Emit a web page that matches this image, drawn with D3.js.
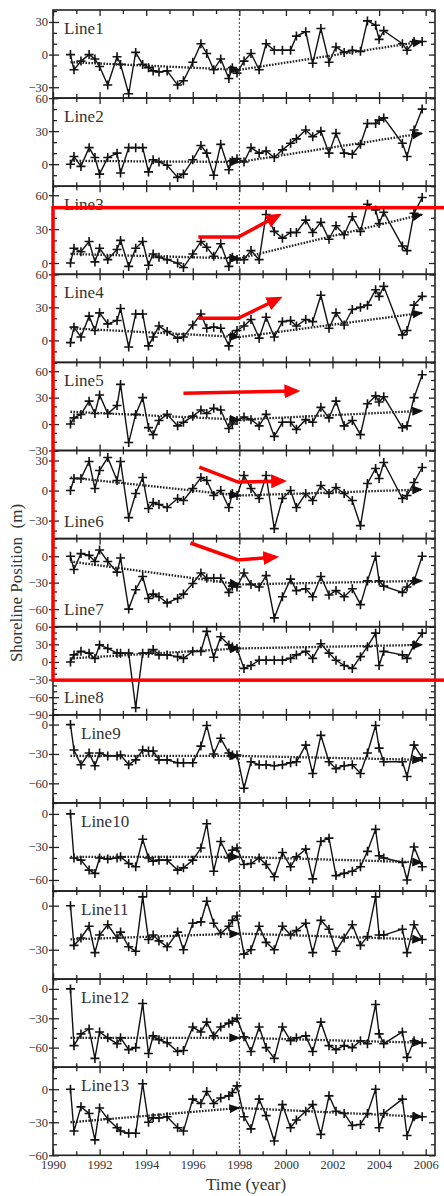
<!DOCTYPE html>
<html>
<head>
<meta charset="utf-8">
<script src="https://cdn.jsdelivr.net/npm/d3@7"></script>
<style>
  body { margin: 0; background: #fff; }
  svg { display: block; }
  text { font-family: "Liberation Serif", "DejaVu Serif", serif; fill: #333; }
</style>
</head>
<body>
<div id="chart"></div>
<script>
// survey dates (decimal years), shared by every transect
const years = [1990.75, 1990.9, 1991.2, 1991.55, 1991.8, 1992.0, 1992.35, 1992.75, 1992.9, 1993.25,
  1993.55, 1993.85, 1994.1, 1994.3, 1994.55, 1994.9, 1995.35, 1995.6, 1996.0, 1996.35,
  1996.6, 1996.9, 1997.2, 1997.55, 1997.7, 1997.9, 1998.2, 1998.5, 1998.85, 1999.15,
  1999.5, 1999.85, 2000.2, 2000.45, 2000.85, 2001.15, 2001.5, 2001.85, 2002.15, 2002.5,
  2002.85, 2003.2, 2003.5, 2003.85, 2004.0, 2004.2, 2005.0, 2005.2, 2005.5, 2005.85];

const line1 = [0, -14, -6, 0, -4, -11, -28, -2, -9, -36, 2, -9, -12, -15, -16, -15, -28, -24, -7, 10, 1, -14, -4, -22, -12, -17, -6, 1, -14, 10, 4, 4, 4, 17, 21, -8, 24, -7, 7, 2, 4, 3, 31, 27, 14, 22, 10, 4, 12, 12];
const line2 = [0, 7, -2, 15, 6, -9, 6, 10, -8, 15, 15, 15, -7, 4, 2, -1, -12, -9, 4, 17, 10, -10, 18, -5, 3, 5, 2, 15, 10, 12, 6, 13, 19, 23, 31, 25, 30, 10, 28, 10, 9, 18, 37, 37, 40, 42, 19, 7, 31, 50];
const line3 = [0, 13, 10, 19, 1, 13, 3, 12, 20, -3, 13, 19, -2, 8, 5, 3, 0, -4, 8, 19, 14, 6, 17, -3, 5, 3, 3, 11, 3, 43, 28, 22, 27, 27, 38, 27, 36, 21, 33, 25, 41, 28, 52, 47, 35, 45, 15, 11, 44, 58];
const line4 = [-2, 12, 3, 22, 9, 25, 15, 18, 29, -6, 24, 24, -5, 3, 13, 8, 2, 3, 14, 24, 11, 12, 11, -5, 5, 9, 13, 19, 2, 21, 3, 17, 18, 13, 19, 17, 41, 11, 25, 14, 28, 30, 32, 46, 40, 49, 5, 9, 32, 40];
const line5 = [0, 7, 11, 26, 12, 33, 12, 21, 45, -21, 11, 30, -4, -12, 4, 11, -2, 2, 9, 16, 12, 18, 16, -5, 0, 4, 8, 5, -2, 11, -14, 2, 2, -6, 5, 2, 19, 7, 26, -2, 4, -12, 23, 32, 25, 31, -4, -2, 30, 56];
const line6 = [0, 12, 12, 29, 2, 20, 33, 10, 29, -27, -3, 13, -18, -12, -14, -17, -8, -10, 2, 13, 10, -5, 0, -17, -3, -5, 15, 2, -8, 15, -38, -8, 0, -17, -3, -10, 5, -3, 3, -3, -10, -35, 7, 22, 12, 28, -8, -5, 8, 23];
const line7 = [0, -15, 3, 1, -6, 7, -6, -18, -2, -60, -38, -23, -48, -43, -46, -53, -48, -43, -31, -19, -25, -25, -25, -41, -34, -35, -19, -32, -35, -22, -70, -46, -26, -39, -37, -46, -23, -44, -39, -46, -37, -55, -28, 0, -28, -34, -41, -35, -28, 0];
const line8 = [0, 12, 18, 15, 6, 29, 23, 15, 15, 15, -78, 15, 15, 21, 12, 12, 9, 6, 18, 18, 52, 8, 43, 29, 26, 23, -11, -6, 3, 3, 3, 3, 6, 12, 18, 6, 31, 15, 3, -6, -11, 9, 26, 49, -6, 18, 12, 6, 29, 49];
const line9 = [0, -26, -41, -29, -42, -29, -32, -32, -31, -41, -36, -26, -27, -27, -36, -36, -39, -39, -39, -22, -1, -30, -14, -29, -31, -31, -65, -38, -41, -41, -42, -41, -39, -38, -21, -50, -11, -38, -45, -42, -41, -50, -29, -1, -24, -38, -38, -53, -21, -34];
const line10 = [0, -40, -42, -51, -54, -40, -41, -40, -39, -45, -48, -23, -40, -43, -42, -42, -51, -49, -42, -31, -9, -52, -25, -40, -33, -31, -46, -45, -40, -46, -57, -35, -48, -39, -32, -59, -25, -22, -56, -54, -52, -48, -34, -14, -38, -40, -44, -60, -30, -48];
const line11 = [0, -27, -22, -14, -32, -20, -13, -22, -18, -28, -31, 6, -23, -20, -24, -28, -18, -30, -12, -11, 3, -12, -19, -14, -10, -7, -33, -30, -14, -25, -30, -14, -20, -17, -12, -32, -10, -16, -31, -22, -13, -27, -21, 6, -20, -20, -16, -32, -13, -23];
const line12 = [0, -58, -46, -41, -71, -44, -50, -56, -50, -62, -60, -15, -66, -48, -52, -55, -64, -63, -39, -44, -34, -48, -39, -35, -33, -30, -49, -64, -39, -60, -71, -39, -53, -50, -48, -64, -34, -58, -62, -58, -60, -53, -56, -16, -46, -56, -44, -70, -53, -55];
const line13 = [0, -38, -16, -22, -46, -17, -27, -35, -38, -40, -40, 5, -30, -26, -26, -25, -35, -38, -9, -13, -2, -13, -8, -6, -3, 3, -25, -36, -9, -24, -47, -14, -35, -28, -20, -14, -41, -6, -20, -22, -33, -32, -22, 0, -35, -22, -9, -42, -25, -25];

// trend arrows: value at start, at 1998 and at the end
const trendYears = [1990.75, 1998, 2005.85];
const trend1 = [-7, -14, 12];
const trend2 = [3, 2, 28];
const trend3 = [8, 4, 43];
const trend4 = [11, 3, 25];
const trend5 = [14, 5, 15];
const trend6 = [13, -5, 1];
const trend7 = [-6, -32, -28];
const trend8 = [6, 23, 29];
const trend9 = [-32, -32, -36];
const trend10 = [-39, -39, -44];
const trend11 = [-23, -19, -23];
const trend12 = [-50, -50, -55];
const trend13 = [-30, -17, -25];

const panelNames = ["Line1", "Line2", "Line3", "Line4", "Line5", "Line6", "Line7",
  "Line8", "Line9", "Line10", "Line11", "Line12", "Line13"];
const yDomains = [[-40, 41], [-20, 60], [-10, 68], [-20, 60], [-30, 70], [-48, 40], [-80, 20],
  [-90, 60], [-80, 10], [-70, 10], [-50, 10], [-80, 10], [-60, 20]];
const splitYear = 1998;

// red annotation (panel index, [year, value] points)
const redArrows = [
  { panel: 2, pts: [[1996.24, 23], [1997.95, 23], [1999.67, 42]] },
  { panel: 3, pts: [[1996.24, 20], [1997.95, 20], [1999.7, 38]] },
  { panel: 4, pts: [[1995.6, 35], [2000.45, 37.5]] },
  { panel: 5, pts: [[1996.28, 23.5], [1997.95, 8.5], [1999.88, 9.5]] },
  { panel: 6, pts: [[1995.9, 15], [1997.95, -4.3], [1999.54, -1]] }
];
const redBox = { x0: 1990, x1: 2008, topPanel: 2, topValue: 49, bottomPanel: 7, bottomValue: -31 };

const series = [line1, line2, line3, line4, line5, line6, line7, line8, line9, line10, line11, line12, line13];
const trends = [trend1, trend2, trend3, trend4, trend5, trend6, trend7, trend8, trend9, trend10, trend11, trend12, trend13];

const w = 444, h = 1196;
const top0 = 10, panelH = 88.1;

const svg = d3.select("#chart").append("svg").attr("width", w).attr("height", h);
const defs = svg.append("defs");
defs.append("marker").attr("id", "tri")
  .attr("viewBox", "0 0 11 9").attr("refX", 10).attr("refY", 4.5)
  .attr("markerWidth", 11).attr("markerHeight", 9)
  .attr("markerUnits", "userSpaceOnUse").attr("orient", "auto")
  .append("path").attr("d", "M0,0L11,4.5L0,9Z").attr("fill", "#111");
defs.append("marker").attr("id", "redtri")
  .attr("viewBox", "0 0 16 14").attr("refX", 12).attr("refY", 7)
  .attr("markerWidth", 16).attr("markerHeight", 14)
  .attr("markerUnits", "userSpaceOnUse").attr("orient", "auto")
  .append("path").attr("d", "M0,0L16,7L0,14Z").attr("fill", "#f00");

const x = d3.scaleLinear().domain([1990, 2006.4]).range([53, 435]);
const yScales = yDomains.map((dom, i) => d3.scaleLinear()
  .domain(dom).range([top0 + (i + 1) * panelH, top0 + i * panelH]));

const allYears = d3.range(1990, 2007);

yScales.forEach((y, i) => {
  const g = svg.append("g");
  const pTop = top0 + i * panelH, pBot = pTop + panelH;
  const [lo, hi] = yDomains[i];
  const major = d3.range(Math.ceil(lo / 30) * 30, hi + 0.01, 30);
  const minor = d3.range(Math.ceil(lo / 10) * 10, hi + 0.01, 10).filter(v => v % 30 !== 0);

  // left axis
  const la = g.append("g").attr("transform", `translate(${x.range()[0]},0)`)
    .call(d3.axisLeft(y).tickValues(major).tickSize(-6).tickPadding(5));
  la.selectAll(".tick line").attr("x1", -4);
  la.selectAll("text").style("font-size", "12.5px").attr("fill", "#444");
  g.append("g").attr("transform", `translate(${x.range()[0]},0)`)
    .call(d3.axisLeft(y).tickValues(minor).tickSize(-4).tickFormat(""));
  // right axis
  g.append("g").attr("transform", `translate(${x.range()[1]},0)`)
    .call(d3.axisRight(y).tickValues(major).tickSize(-6).tickFormat(""));
  g.append("g").attr("transform", `translate(${x.range()[1]},0)`)
    .call(d3.axisRight(y).tickValues(minor).tickSize(-4).tickFormat(""));

  // top / bottom year ticks
  const even = allYears.filter(v => v % 2 === 0), odd = allYears.filter(v => v % 2 !== 0);
  g.append("g").attr("transform", `translate(0,${pTop})`)
    .call(d3.axisTop(x).tickValues(even).tickSize(-6).tickFormat(""));
  g.append("g").attr("transform", `translate(0,${pTop})`)
    .call(d3.axisTop(x).tickValues(odd).tickSize(-4).tickFormat(""));
  const bx = g.append("g").attr("transform", `translate(0,${pBot})`)
    .call(d3.axisBottom(x).tickValues(even).tickSize(-6).tickPadding(5)
      .tickFormat(i === yScales.length - 1 ? d3.format("d") : ""));
  bx.selectAll("text").style("font-size", "12.5px").attr("fill", "#444");
  g.append("g").attr("transform", `translate(0,${pBot})`)
    .call(d3.axisBottom(x).tickValues(odd).tickSize(-4).tickFormat(""));

  g.selectAll(".domain").remove();
  g.selectAll(".tick line").attr("stroke", "#222").attr("stroke-width", 1.3);

  g.append("rect").attr("x", x.range()[0]).attr("y", pTop)
    .attr("width", x.range()[1] - x.range()[0]).attr("height", panelH)
    .attr("fill", "none").attr("stroke", "#222").attr("stroke-width", 1.6);

  // panel label
  let lx = 64, ly = pTop + 24;
  if (i >= 5 && i <= 7) ly = pBot - 12;
  if (i >= 8) lx = 81;
  g.append("text").attr("x", lx).attr("y", ly).style("font-size", "17px")
    .attr("fill", "#333").text(panelNames[i]);
});

// 1998 divider
svg.append("line")
  .attr("x1", x(splitYear)).attr("x2", x(splitYear))
  .attr("y1", top0).attr("y2", top0 + panelH * yScales.length)
  .attr("stroke", "#333").attr("stroke-width", 1).attr("stroke-dasharray", "2,2");

// data
yScales.forEach((y, i) => {
  const pts = years.map((yr, k) => [yr, series[i][k]]);
  const g = svg.append("g");
  g.append("path").datum(pts)
    .attr("d", d3.line().x(d => x(d[0])).y(d => y(d[1])))
    .attr("fill", "none").attr("stroke", "#111").attr("stroke-width", 1.4);
  g.selectAll("path.pt").data(pts).enter().append("path").attr("class", "pt")
    .attr("transform", d => `translate(${x(d[0])},${y(d[1])})`)
    .attr("d", "M-4.5,0H4.5M0,-4.5V4.5")
    .attr("stroke", "#111").attr("stroke-width", 1.6);

  const t = trends[i];
  const segs = [[[trendYears[0], t[0]], [trendYears[1], t[1]]], [[trendYears[1], t[1]], [trendYears[2], t[2]]]];
  segs.forEach(s => {
    g.append("path").datum(s)
      .attr("d", d3.line().x(d => x(d[0])).y(d => y(d[1])))
      .attr("fill", "none").attr("stroke", "#222").attr("stroke-width", 2.3)
      .attr("stroke-dasharray", "1.6,1.4").attr("marker-end", "url(#tri)");
  });
});

// axis titles
svg.append("text").attr("transform", "translate(22,583) rotate(-90)")
  .attr("text-anchor", "middle").style("font-size", "17px").attr("fill", "#444")
  .style("white-space", "pre").text("Shoreline Position  (m)");
svg.append("text").attr("x", 246).attr("y", 1190)
  .attr("text-anchor", "middle").style("font-size", "17px").attr("fill", "#444")
  .text("Time (year)");

// red annotation
const ry0 = yScales[redBox.topPanel](redBox.topValue);
const ry1 = yScales[redBox.bottomPanel](redBox.bottomValue);
svg.append("rect").attr("x", x(redBox.x0)).attr("y", ry0)
  .attr("width", x(redBox.x1) - x(redBox.x0)).attr("height", ry1 - ry0)
  .attr("fill", "none").attr("stroke", "#f00").attr("stroke-width", 3.5);
redArrows.forEach(a => {
  const y = yScales[a.panel];
  svg.append("path").datum(a.pts)
    .attr("d", d3.line().x(d => x(d[0])).y(d => y(d[1])))
    .attr("fill", "none").attr("stroke", "#f00").attr("stroke-width", 3.5)
    .attr("marker-end", "url(#redtri)");
});
</script>
</body>
</html>
